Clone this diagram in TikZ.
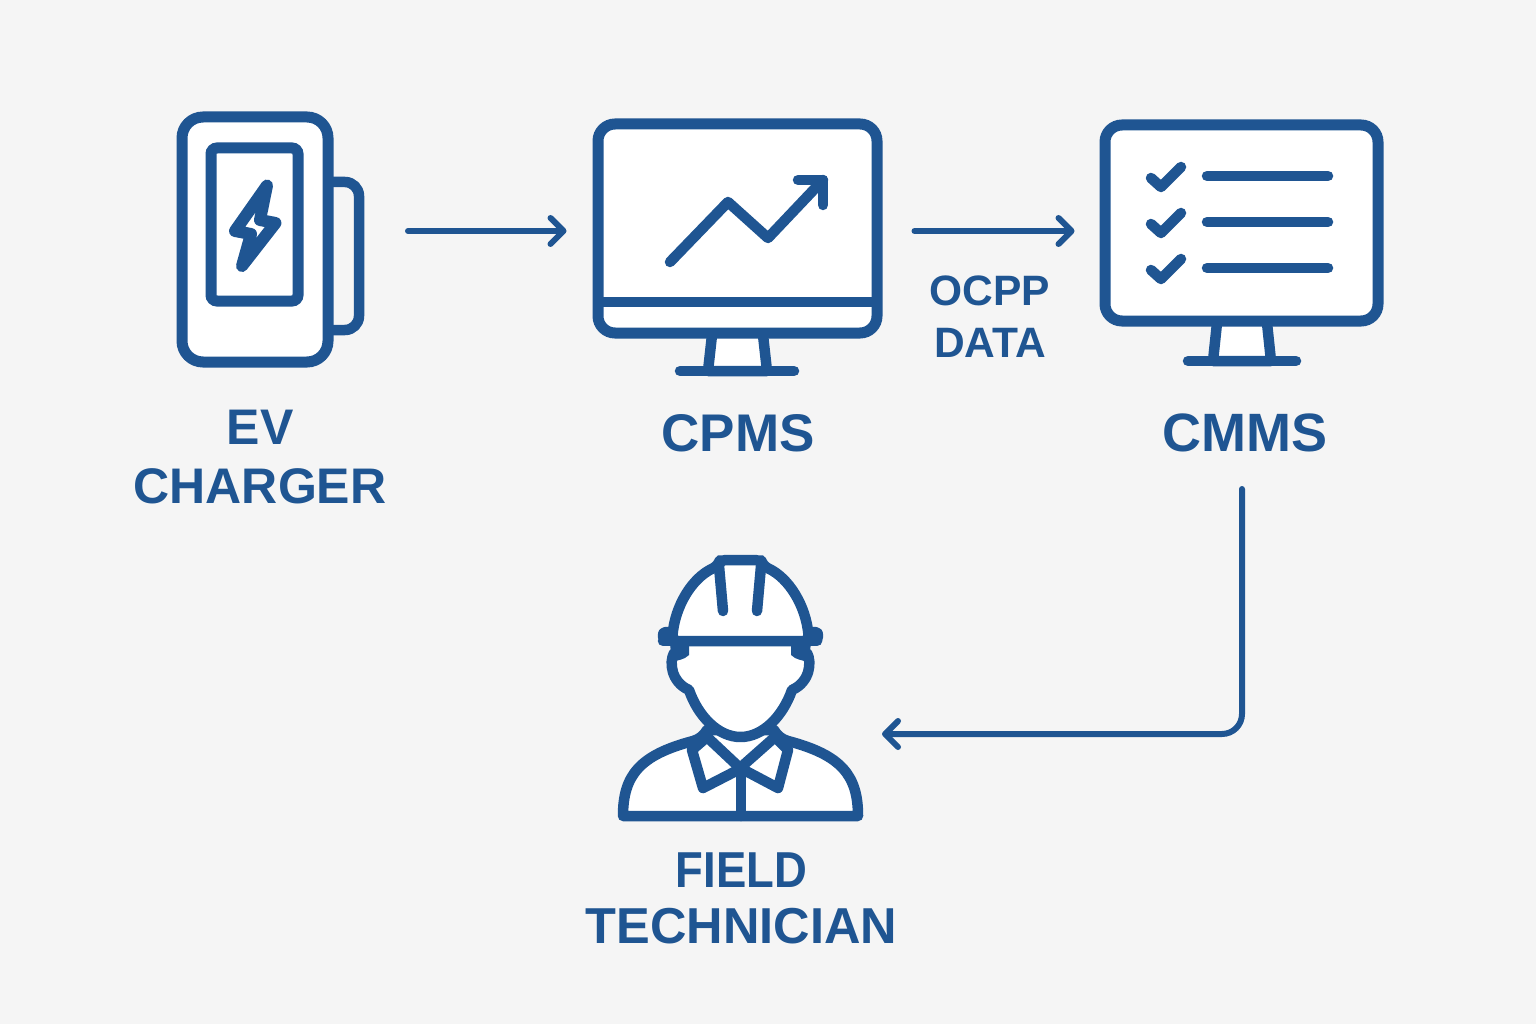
\documentclass[tikz,border=0pt]{standalone}
\usepackage{fontspec}
\setmainfont{Liberation Sans}
\usetikzlibrary{arrows.meta, calc}
\definecolor{iconblue}{RGB}{31, 85, 146}
\definecolor{pagegray}{RGB}{245, 245, 245}
\tikzset{
    iconline/.style={draw=iconblue, line width=10.5pt, line join=round, line cap=round},
    iconfill/.style={iconline, fill=white},
    iconbox/.style={draw=iconblue, fill=white, line width=11pt},
    iconlabel/.style={text=iconblue, align=center, font=\fontsize{50}{59}\selectfont\bfseries},
    flowarrow/.style={draw=iconblue, line width=6pt, line cap=round, rounded corners=20pt,
        -{Straight Barb[length=13pt, width=26pt, round]}},
}

\begin{document}
\begin{tikzpicture}[x=1pt, y=-1pt]
        \fill[pagegray] (0,0) rectangle (1536,1024);
        \useasboundingbox (0,0) rectangle (1536,1024);

        % EV charger
        \draw[iconline, rounded corners=14pt] (320,182) -- (359,182) -- (359,330) -- (320,330);
        \node[iconbox, rounded corners=21pt, minimum width=146pt, minimum height=245pt] (charger) at (255,239.5) {};
        \node[iconbox, rounded corners=6pt, minimum width=87pt, minimum height=153pt] (chargerscreen) at (254.5,224.5) {};
        \draw[iconfill, line width=12pt] (267,185.5) -- (235,231) -- (251,234) -- (242,266) -- (275.5,223) -- (260,220) -- cycle;
        \coordinate (chargerport) at (364,231);

        % CPMS monitor
        \draw[iconfill] (712,335) -- (708,371) -- (767,371) -- (763,335);
        \draw[iconline] (680,371) -- (794,371);
        \node[iconbox, rounded corners=17pt, minimum width=279pt, minimum height=209pt] (cpms) at (737.5,228.5) {};
        \draw[iconline, line cap=butt] (cpms.west |- 0,302) ++(5,0) -- ($(cpms.east |- 0,302)+(-5,0)$);
        \draw[iconline] (670,262) -- (728,202) -- (768,238) -- (823,180);
        \draw[iconline] (798,180) -- (823,180) -- (823,205);

        % CMMS monitor
        \draw[iconfill] (1217,323) -- (1213,361) -- (1271,361) -- (1267,323);
        \draw[iconline] (1188,361) -- (1296,361);
        \node[iconbox, rounded corners=17pt, minimum width=273pt, minimum height=196pt] (cmms) at (1241.5,223) {};
        \foreach \row in {0,46,92} {
            \draw[iconline] (1151,178+\row) -- (1161,187+\row) -- (1181,167+\row);
            \draw[iconline] (1207,176+\row) -- (1328,176+\row);
        }

        % Field technician
        \draw[iconfill] (623,816) .. controls (623,775) and (640,755) .. (693,741) .. controls (700,739) and (704,735) .. (707,730)
            -- (774,730) .. controls (777,735) and (781,739) .. (788,741) .. controls (841,755) and (858,775) .. (858,816) -- cycle;
        \draw[iconfill] (707,737) -- (740,768) -- (775,737) -- (788,750) -- (778,788) -- (744,770) -- (738,770) -- (703,788) -- (692,750) -- cycle;
        \draw[iconline] (741,772) -- (741,816);
        \fill[white] (674,641) -- (674,653) .. controls (669,662) and (671,682) .. (689,690) .. controls (698,716) and (718,737) .. (740.5,737)
            .. controls (763,737) and (783,716) .. (792,690) .. controls (810,682) and (812,662) .. (807,653) -- (807,641) -- cycle;
        \draw[iconline] (674,653) .. controls (669,662) and (671,682) .. (689,690) .. controls (698,716) and (718,737) .. (740.5,737)
            .. controls (763,737) and (783,716) .. (792,690) .. controls (810,682) and (812,662) .. (807,653);
        \fill[iconblue] (670,644) -- (689,644) -- (689,655) .. controls (684,660) and (678,660) .. (672,662) -- cycle;
        \fill[iconblue] (811,644) -- (791,644) -- (791,655) .. controls (796,660) and (802,660) .. (808,662) -- cycle;
        \draw[iconfill, rounded corners=6pt] (672,641) .. controls (675,606) and (692,578) .. (718,566) -- (720,560) -- (761,560) -- (763,566) .. controls (789,578) and (806,606) .. (809,641) -- cycle;
        \draw[iconline] (663,641) -- (817,641);
        \draw[iconline, rounded corners=4pt] (672,632) -- (662,632) -- (664,640);
        \draw[iconline, rounded corners=4pt] (809,632) -- (819,632) -- (817,640);
        \draw[iconline] (719,566) -- (723,611);
        \draw[iconline] (761,566) -- (757,611);
        \coordinate (technician) at (882,734);

        % Labels
        \node[iconlabel] (chargerlabel) at (260,457) {EV\\CHARGER};
        \node[iconlabel, font=\fontsize{53}{59}\selectfont\bfseries] (cpmslabel) at (738,433) {CPMS};
        \node[iconlabel, font=\fontsize{54}{59}\selectfont\bfseries] (cmmslabel) at (1245,433) {CMMS};
        \node[iconlabel, font=\fontsize{50.5}{56}\selectfont\bfseries] (techlabel) at (741.5,898) {\scalebox{.9}[1]{FIELD}\\TECHNICIAN};
        \node[iconlabel, font=\fontsize{42.5}{52}\selectfont\bfseries] (ocpplabel) at (990,317) {OCPP\\DATA};

        % Connections
        \coordinate (cmmsdrop) at (1242,489);
        \draw[flowarrow, shorten <=44pt, shorten >=26pt] (chargerport) -- (chargerport -| cpms.west);
        \draw[flowarrow, shorten <=32pt, shorten >=25pt] (chargerport -| cpms.east) -- (chargerport -| cmms.west);
        \draw[flowarrow] (cmmsdrop) |- (technician);
\end{tikzpicture}
\end{document}
